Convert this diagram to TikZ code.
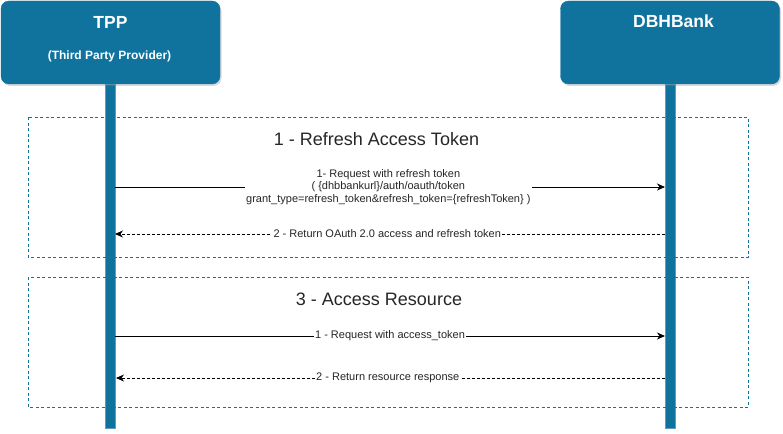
\documentclass[tikz,border=0pt]{standalone}
\usepackage{fontspec}
\setmainfont{Liberation Sans}
\usetikzlibrary{arrows.meta,shadows}
\definecolor{dblue}{HTML}{10739E}
\definecolor{lline}{HTML}{5E9DC0}
\tikzset{
  actor/.style={draw=dblue, fill=dblue, rounded corners=8pt, minimum width=219pt, minimum height=83pt, inner sep=0pt,
    drop shadow={opacity=0.3, shadow xshift=1.5pt, shadow yshift=-2pt}},
  lifeline/.style={draw=lline, fill=dblue, line width=0.6pt},
  frame/.style={draw=dblue, dash pattern=on 3pt off 2.5pt, line width=0.7pt},
  msg/.style={draw=black, line width=0.9pt, -{Stealth[length=8pt,width=7pt,inset=2.5pt]}},
  ret/.style={msg, dash pattern=on 3pt off 2pt},
  lbl/.style={fill=white, inner sep=1.5pt, font=\fontsize{11pt}{12.8pt}\selectfont, align=center, text=black!85},
  ttl/.style={font=\fontsize{18pt}{21pt}\selectfont, text=black!85},
  hdr/.style={text=white, font=\bfseries\fontsize{17.5pt}{20pt}\selectfont},
  sub/.style={text=white, font=\bfseries\fontsize{12pt}{14pt}\selectfont},
}
\begin{document}
\begin{tikzpicture}[x=1pt,y=-1pt]
\useasboundingbox (0,0) rectangle (783,433);
% lifelines
\path[lifeline] (105,84) rectangle (115,428);
\path[lifeline] (665,84) rectangle (675,428);
% actor boxes
\node[actor] (tpp) at (110.5,42.5) {};
\node[actor] (bank) at (670,42.5) {};
\node[hdr] (tppt) at (110.5,22) {TPP};
\node[sub] (tpps) at (109.5,56) {(Third Party Provider)};
\node[hdr] (bankt) at (673.5,21.5) {DBHBank};
% frames
\draw[frame] (28,117) rectangle (748,257);
\draw[frame] (28,277) rectangle (748,407);
\node[ttl] (f1) at (376.5,139) {1 - Refresh Access Token};
\node[ttl] (f2) at (379,299.5) {3 - Access Resource};
% coordinates on lifelines
\coordinate (a1s) at (115,187);
\coordinate (a1e) at (665,187);
\coordinate (a2s) at (665,234);
\coordinate (a2e) at (115,234);
\coordinate (a3s) at (115,336);
\coordinate (a3e) at (665,336);
\coordinate (a4s) at (665,378);
\coordinate (a4e) at (116,378);
% messages
\draw[msg] (a1s) -- (a1e) node[lbl, pos=0.497] (m1) {1- Request with refresh token\\( \{dhbbankurl\}/auth/oauth/token\\grant\_type=refresh\_token\&refresh\_token=\{refreshToken\} )};
\draw[ret] (a2s) -- (a2e) node[lbl, pos=0.505] (m2) {2 - Return OAuth 2.0 access and refresh token};
\draw[msg] (a3s) -- (a3e) node[lbl, pos=0.5] (m3) {1 - Request with access\_token};
\draw[ret] (a4s) -- (a4e) node[lbl, pos=0.505] (m4) {2 - Return resource response};
\end{tikzpicture}
\end{document}
